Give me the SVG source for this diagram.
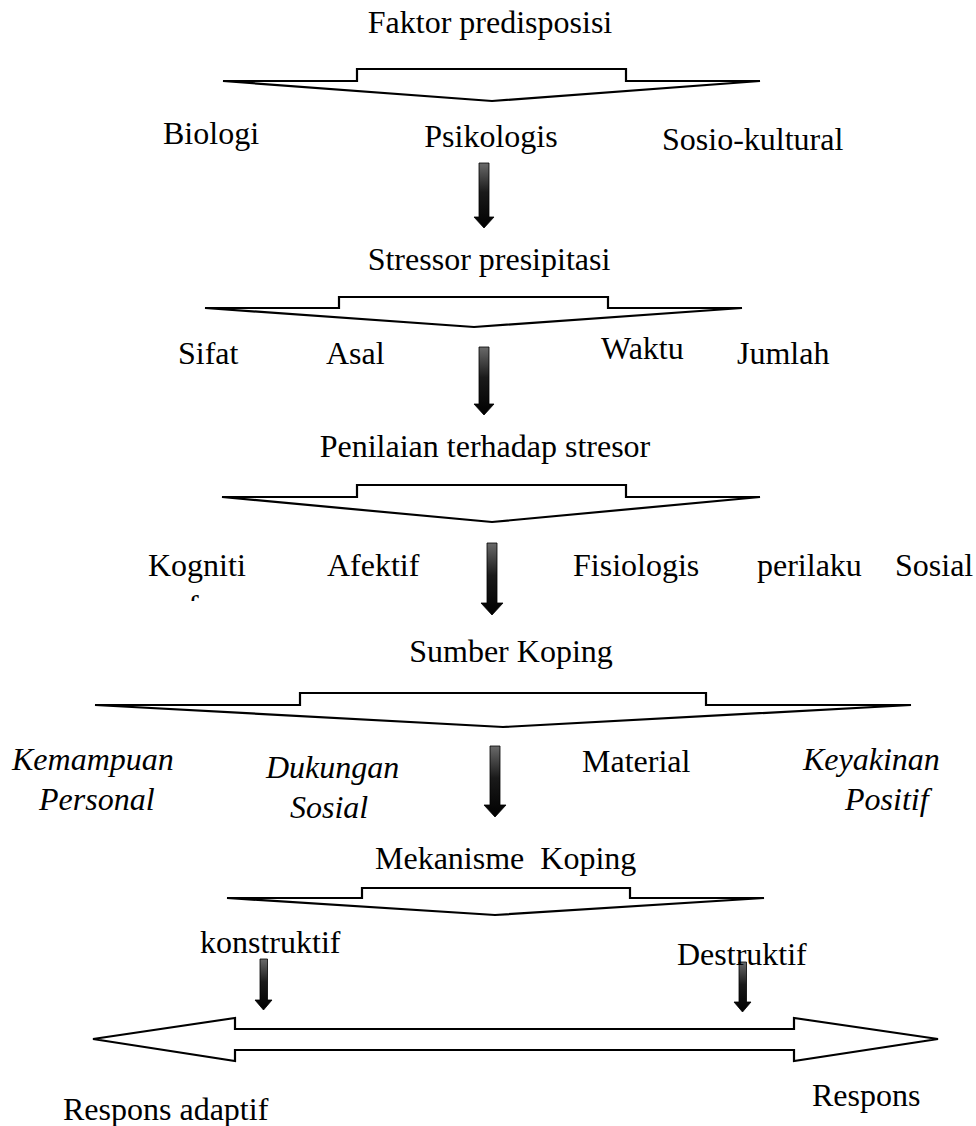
<svg xmlns="http://www.w3.org/2000/svg" width="976" height="1126" viewBox="0 0 976 1126">
<style>
text{font-family:"Liberation Serif","Times New Roman",serif;font-size:32px;fill:#000}
.it{font-style:italic}
.hollow{fill:#fff;stroke:#000;stroke-width:2.2;stroke-linejoin:miter}
.dark{fill:url(#g);stroke:#000;stroke-width:0.8}
</style>
<defs>
<linearGradient id="g" x1="0" y1="0" x2="0" y2="1">
<stop offset="0" stop-color="#6a6a6a"/>
<stop offset="0.45" stop-color="#1a1a1a"/>
<stop offset="1" stop-color="#000"/>
</linearGradient>
<clipPath id="kclip"><rect x="140" y="540" width="120" height="61"/></clipPath>
</defs>
<g id="connectors">
<polygon id="s1" class="hollow" points="223,81 357,81 357,69 626,69 626,81 760,81 492,101"/>
<path id="a1" class="dark" d="M479,163 H489 V217 H494 L484,228 L474,217 H479 Z"/>
<polygon id="s2" class="hollow" points="205,308 339,308 339,297 608,297 608,308 742,308 474,327"/>
<path id="a2" class="dark" d="M479,347 H489 V404 H494 L484,415 L474,404 H479 Z"/>
<polygon id="s3" class="hollow" points="222,497 357,497 357,485 626,485 626,497 760,497 492,522"/>
<path id="a3" class="dark" d="M487,543 H497 V603 H503 L492,615 L481,603 H487 Z"/>
<polygon id="s4" class="hollow" points="95,705 300,705 300,693 706,693 706,705 911,705 503,727"/>
<path id="a4" class="dark" d="M490,746 H500 V805 H506 L495,817 L484,805 H490 Z"/>
<polygon id="s5" class="hollow" points="227,898 362,898 362,888 630,888 630,898 764,898 495,915"/>
<path id="a5" class="dark" d="M260,959 H267.5 V1000 H272 L263.5,1010 L255,1000 H260 Z"/>
<path id="a6" class="dark" d="M739,962 H746.5 V1002 H751 L742.5,1012 L734,1002 H739 Z"/>
<polygon id="dbl" class="hollow" points="93,1039 235,1018 235,1029 794,1029 794,1018 938,1039 794,1061 794,1050 235,1050 235,1061"/>
</g>
<g id="n-faktor"><text x="490" y="33" text-anchor="middle">Faktor predisposisi</text></g>
<g id="n-biologi"><text x="163" y="144">Biologi</text></g>
<g id="n-psikologis"><text x="491" y="147" text-anchor="middle">Psikologis</text></g>
<g id="n-sosiokultural"><text x="662" y="150">Sosio-kultural</text></g>
<g id="n-stressor"><text x="489" y="270" text-anchor="middle">Stressor presipitasi</text></g>
<g id="n-sifat"><text x="178" y="364">Sifat</text></g>
<g id="n-asal"><text x="326" y="364">Asal</text></g>
<g id="n-waktu"><text x="601" y="359">Waktu</text></g>
<g id="n-jumlah"><text x="737" y="364">Jumlah</text></g>
<g id="n-penilaian"><text x="485" y="457" text-anchor="middle">Penilaian terhadap stresor</text></g>
<g id="n-kognitif" clip-path="url(#kclip)"><text x="148" y="576">Kogniti</text><text x="188" y="617">f</text></g>
<g id="n-afektif"><text x="327" y="576">Afektif</text></g>
<g id="n-fisiologis"><text x="573" y="576">Fisiologis</text></g>
<g id="n-perilaku"><text x="757" y="576">perilaku</text></g>
<g id="n-sosial"><text x="895" y="576">Sosial</text></g>
<g id="n-sumber"><text x="511" y="662" text-anchor="middle">Sumber Koping</text></g>
<g id="n-kemampuan"><text class="it" x="12" y="770">Kemampuan</text><text class="it" x="39" y="810">Personal</text></g>
<g id="n-dukungan"><text class="it" x="266" y="778">Dukungan</text><text class="it" x="290" y="818">Sosial</text></g>
<g id="n-material"><text x="582" y="772">Material</text></g>
<g id="n-keyakinan"><text class="it" x="803" y="770">Keyakinan</text><text class="it" x="845" y="810">Positif</text></g>
<g id="n-mekanisme"><text x="375" y="869" xml:space="preserve">Mekanisme  Koping</text></g>
<g id="n-konstruktif"><text x="200" y="953">konstruktif</text></g>
<g id="n-destruktif"><text x="677" y="965">Destruktif</text></g>
<g id="n-adaptif"><text x="63" y="1120">Respons adaptif</text></g>
<g id="n-respons"><text x="812" y="1106">Respons</text></g>
</svg>
